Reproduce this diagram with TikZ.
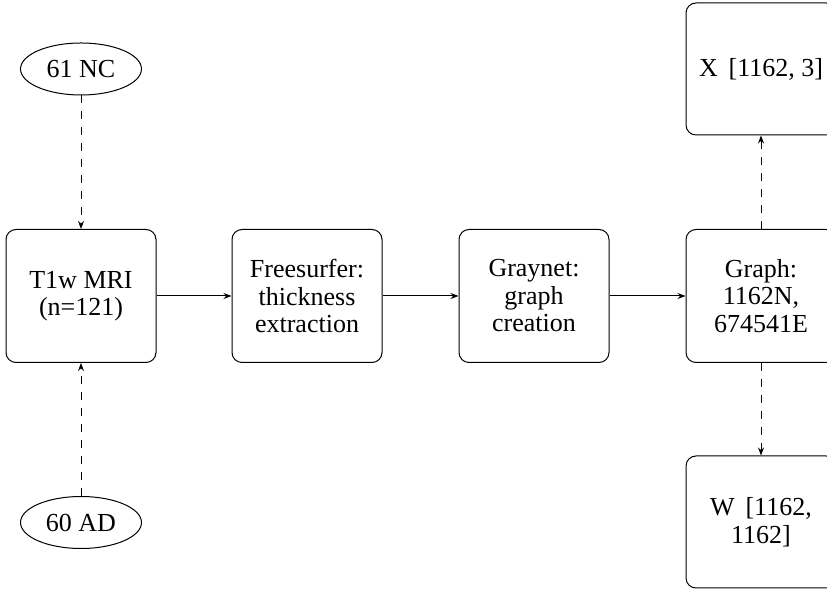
\documentclass[tikz,border=0pt]{standalone}
\usepackage{fontspec}
\setmainfont{Liberation Serif}
\usetikzlibrary{shapes.geometric,arrows.meta}
\begin{document}
\begin{tikzpicture}[x=1pt,y=1pt,
  every node/.style={font=\fontsize{26}{27.5}\selectfont},
  box/.style={draw, line width=1pt, rounded corners=10pt, minimum width=150pt, minimum height=133pt, align=center, inner sep=0pt},
  oval/.style={draw, ellipse, line width=1pt, minimum width=121pt, minimum height=52pt, inner sep=0pt},
  flow/.style={line width=1pt, -{Stealth[length=8pt,width=6pt]}},
  dflow/.style={flow, dash pattern=on 8pt off 8pt}]
\clip (0,0) rectangle (827,591);
\node[oval] (nc) at (81,522) {61 NC};
\node[oval] (ad) at (81,68.5) {60 AD};
\node[box] (mri) at (81,295) {T1w MRI\\(n=121)};
\node[box] (fs) at (307,295) {Freesurfer:\\thickness\\extraction};
\node[box] (gn) at (534,295) {Graynet:\\graph\\creation};
\node[box] (gr) at (761,295) {Graph:\\1162N,\\674541E};
\node[box, minimum height=132pt] (xm) at (761,522) {X\ \,[1162, 3]};
\node[box, minimum height=132pt] (wm) at (761,69) {W\ \,[1162,\\1162]};
\draw[dflow] (nc) -- (mri);
\draw[dflow] (ad) -- (mri);
\draw[flow] (mri) -- (fs);
\draw[flow] (fs) -- (gn);
\draw[flow] (gn) -- (gr);
\draw[dflow] (gr) -- (xm);
\draw[dflow] (gr) -- (wm);
\end{tikzpicture}
\end{document}
